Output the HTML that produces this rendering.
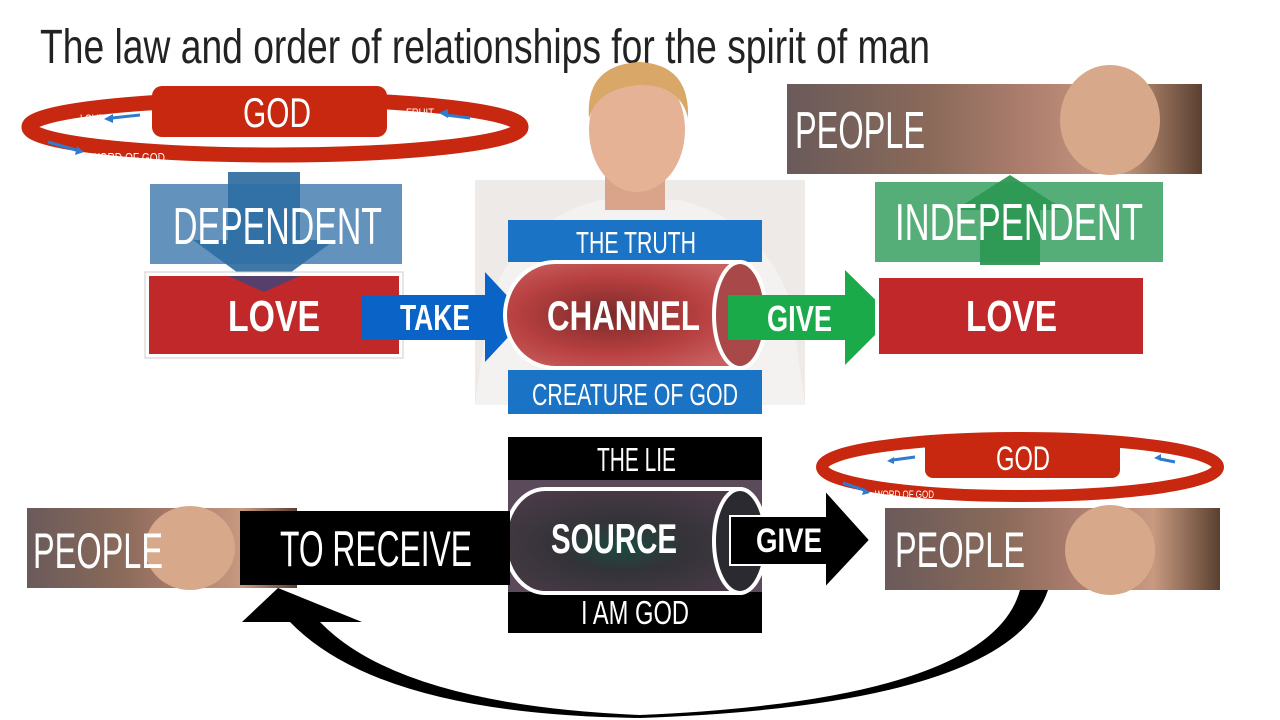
<!DOCTYPE html>
<html><head><meta charset="utf-8"><style>
html,body{margin:0;padding:0;background:#fff;width:1280px;height:720px;overflow:hidden}
text{font-family:"Liberation Sans Narrow","Liberation Sans",sans-serif}
</style></head><body>
<svg width="1280" height="720" viewBox="0 0 1280 720" xmlns="http://www.w3.org/2000/svg">
<defs>
<linearGradient id="ppl" x1="0" x2="1" y1="0" y2="0">
<stop offset="0" stop-color="#6a5a5a"/><stop offset="0.35" stop-color="#8a6a5a"/><stop offset="0.6" stop-color="#b08070"/><stop offset="0.8" stop-color="#c89a80"/><stop offset="1" stop-color="#5a4030"/></linearGradient>
<radialGradient id="eye" cx="0.4" cy="0.5" r="0.6"><stop offset="0" stop-color="#7a2a2a"/><stop offset="0.6" stop-color="#b84040"/><stop offset="1" stop-color="#c86060"/></radialGradient>
<radialGradient id="eye2" cx="0.45" cy="0.55" r="0.6"><stop offset="0" stop-color="#1a4a40"/><stop offset="0.4" stop-color="#333338"/><stop offset="1" stop-color="#4a3a48"/></radialGradient>
</defs>
<text x="40" y="63" font-size="48" fill="#222" textLength="890" lengthAdjust="spacingAndGlyphs">The law and order of relationships for the spirit of man</text>

<!-- man photo -->
<rect x="475" y="180" width="330" height="225" fill="#eeeae8"/>
<path d="M475 405 L490 300 Q520 220 600 200 L680 200 Q760 220 790 300 L805 405Z" fill="#f4f2f0"/>
<rect x="605" y="160" width="60" height="50" fill="#d9a48a"/>
<ellipse cx="637" cy="130" rx="48" ry="62" fill="#e6b296"/>
<path d="M589 118 Q585 65 640 62 Q690 65 688 118 Q680 85 640 85 Q598 88 589 118Z" fill="#d9a868"/>

<!-- top ellipse -->
<ellipse cx="275" cy="127" rx="246" ry="28" fill="none" stroke="#c8280f" stroke-width="15"/>
<rect x="152" y="86" width="235" height="51" rx="10" fill="#c8280f"/>
<text x="243" y="127" font-size="42" fill="#fff" textLength="68" lengthAdjust="spacingAndGlyphs">GOD</text>
<text x="80" y="123" font-size="12" fill="#fff" textLength="24" lengthAdjust="spacingAndGlyphs">LOVE</text>
<path d="M112 118 L140 115" stroke="#2e7bd0" stroke-width="3"/><path d="M104 119 l9 -5 l0 9z" fill="#2e7bd0"/>
<text x="406" y="117" font-size="12" fill="#fff" textLength="28" lengthAdjust="spacingAndGlyphs">FRUIT</text>
<path d="M446 115 L470 118" stroke="#2e7bd0" stroke-width="3"/><path d="M439 113 l9 -4 l0 9z" fill="#2e7bd0"/>
<path d="M48 142 L76 150" stroke="#2e7bd0" stroke-width="3"/><path d="M84 152 l-9 3 l2 -9z" fill="#2e7bd0"/>
<text x="90" y="162" font-size="13" fill="#fff" textLength="75" lengthAdjust="spacingAndGlyphs">WORD OF GOD</text>

<!-- dependent -->
<path d="M228 172 H300 V240 H335 L264 292 L193 240 H228Z" fill="#1d5f96" opacity="0.85"/>
<rect x="150" y="184" width="252" height="80" fill="#2f6fa6" opacity="0.75"/>
<text x="173" y="244" font-size="52" fill="#fff" textLength="209" lengthAdjust="spacingAndGlyphs">DEPENDENT</text>

<rect x="147" y="274" width="254" height="82" fill="#c0282a" stroke="#fff" stroke-width="4"/>
<rect x="145" y="272" width="258" height="86" fill="none" stroke="#ccc" stroke-width="1"/>
<path d="M228 276 H300 L264 292Z" fill="#2a4a88" opacity="0.7"/>
<text x="228" y="331" font-size="44" font-weight="bold" fill="#fff" textLength="92" lengthAdjust="spacingAndGlyphs">LOVE</text>

<!-- take -->
<path d="M362 295 H485 V272 L527 317 L485 362 V340 H362Z" fill="#0a64c8"/>
<text x="400" y="330" font-size="36" font-weight="bold" fill="#fff" textLength="70" lengthAdjust="spacingAndGlyphs">TAKE</text>

<!-- truth bars -->
<rect x="508" y="220" width="254" height="42" fill="#1a73c4"/>
<text x="576" y="253" font-size="31" fill="#fff" textLength="120" lengthAdjust="spacingAndGlyphs">THE TRUTH</text>
<rect x="508" y="370" width="254" height="44" fill="#1a73c4"/>
<text x="532" y="405" font-size="31" fill="#fff" textLength="206" lengthAdjust="spacingAndGlyphs">CREATURE OF GOD</text>
<path d="M555 262 H740 A26 53 0 0 1 740 368 H555 A50 53 0 0 1 555 262Z" fill="url(#eye)" stroke="#fff" stroke-width="4"/>
<ellipse cx="740" cy="315" rx="26" ry="53" fill="#a84848" stroke="#fff" stroke-width="4"/>
<text x="547" y="330" font-size="42" font-weight="bold" fill="#fff" textLength="153" lengthAdjust="spacingAndGlyphs">CHANNEL</text>

<!-- give green -->
<path d="M728 295 H845 V270 L893 317 L845 365 V340 H728Z" fill="#1aaa4a"/>
<text x="767" y="331" font-size="36" font-weight="bold" fill="#fff" textLength="65" lengthAdjust="spacingAndGlyphs">GIVE</text>

<!-- right top -->
<rect x="787" y="84" width="415" height="90" fill="url(#ppl)"/>
<ellipse cx="1110" cy="120" rx="50" ry="55" fill="#d8a88a"/>
<text x="795" y="148" font-size="52" fill="#fff" textLength="130" lengthAdjust="spacingAndGlyphs">PEOPLE</text>
<path d="M980 265 V210 H955 L1010 175 L1065 210 H1040 V265Z" fill="#1a8a40" opacity="0.85"/>
<rect x="875" y="182" width="288" height="80" fill="#2a9a55" opacity="0.8"/>
<text x="895" y="240" font-size="52" fill="#fff" textLength="248" lengthAdjust="spacingAndGlyphs">INDEPENDENT</text>
<rect x="877" y="276" width="268" height="80" fill="#c0282a" stroke="#fff" stroke-width="4"/>
<text x="966" y="331" font-size="44" font-weight="bold" fill="#fff" textLength="91" lengthAdjust="spacingAndGlyphs">LOVE</text>

<!-- bottom center -->
<rect x="508" y="437" width="254" height="43" fill="#000"/>
<text x="597" y="471" font-size="33" fill="#fff" textLength="79" lengthAdjust="spacingAndGlyphs">THE LIE</text>
<rect x="508" y="480" width="254" height="112" fill="#5a4a5a"/>
<rect x="508" y="592" width="254" height="41" fill="#000"/>
<text x="581" y="624" font-size="33" fill="#fff" textLength="108" lengthAdjust="spacingAndGlyphs">I AM GOD</text>
<path d="M545 489 H740 A26 52 0 0 1 740 593 H545 A40 52 0 0 1 545 489Z" fill="url(#eye2)" stroke="#fff" stroke-width="4"/>
<ellipse cx="740" cy="541" rx="26" ry="52" fill="#2a2a30" stroke="#fff" stroke-width="4"/>
<text x="551" y="553" font-size="42" font-weight="bold" fill="#fff" textLength="126" lengthAdjust="spacingAndGlyphs">SOURCE</text>

<path d="M730 516 H825 V490 L870 540 L825 588 V565 H730Z" fill="#000" stroke="#fff" stroke-width="2"/>
<text x="756" y="552" font-size="34" font-weight="bold" fill="#fff" textLength="66" lengthAdjust="spacingAndGlyphs">GIVE</text>

<!-- bottom right ellipse -->
<ellipse cx="1020" cy="467" rx="198" ry="29" fill="none" stroke="#c8280f" stroke-width="12"/>
<rect x="925" y="437" width="195" height="41" rx="8" fill="#c8280f"/>
<text x="996" y="470" font-size="34" fill="#fff" textLength="54" lengthAdjust="spacingAndGlyphs">GOD</text>
<text x="866" y="466" font-size="10" fill="#fff" textLength="19" lengthAdjust="spacingAndGlyphs">LOVE</text>
<path d="M893 460 L915 457" stroke="#2e7bd0" stroke-width="3"/><path d="M887 461 l7 -4 l0 7z" fill="#2e7bd0"/>
<text x="1126" y="461" font-size="10" fill="#fff" textLength="21" lengthAdjust="spacingAndGlyphs">FRUIT</text>
<path d="M1160 459 L1175 462" stroke="#2e7bd0" stroke-width="3"/><path d="M1154 458 l7 -4 l0 7z" fill="#2e7bd0"/>
<path d="M843 483 L864 490" stroke="#2e7bd0" stroke-width="3"/><path d="M870 493 l-8 2 l2 -7z" fill="#2e7bd0"/>
<text x="875" y="498" font-size="11" fill="#fff" textLength="59" lengthAdjust="spacingAndGlyphs">WORD OF GOD</text>

<rect x="885" y="508" width="335" height="82" fill="url(#ppl)"/>
<ellipse cx="1110" cy="550" rx="45" ry="45" fill="#d8a88a"/>
<text x="895" y="567" font-size="50" fill="#fff" textLength="130" lengthAdjust="spacingAndGlyphs">PEOPLE</text>

<!-- bottom left -->
<rect x="27" y="508" width="270" height="80" fill="url(#ppl)"/>
<ellipse cx="190" cy="548" rx="45" ry="42" fill="#d8a88a"/>
<text x="33" y="568" font-size="50" fill="#fff" textLength="130" lengthAdjust="spacingAndGlyphs">PEOPLE</text>
<rect x="240" y="511" width="270" height="74" fill="#000"/>
<text x="280" y="566" font-size="50" fill="#fff" textLength="192" lengthAdjust="spacingAndGlyphs">TO RECEIVE</text>

<!-- curved arrow -->
<path d="M1020 590 Q990 700 640 715 Q400 705 320 622 L290 622 Q380 715 640 718 Q1010 705 1048 590Z" fill="#000"/>
<path d="M278 588 L362 622 L242 622Z" fill="#000"/>
</svg>
</body></html>
